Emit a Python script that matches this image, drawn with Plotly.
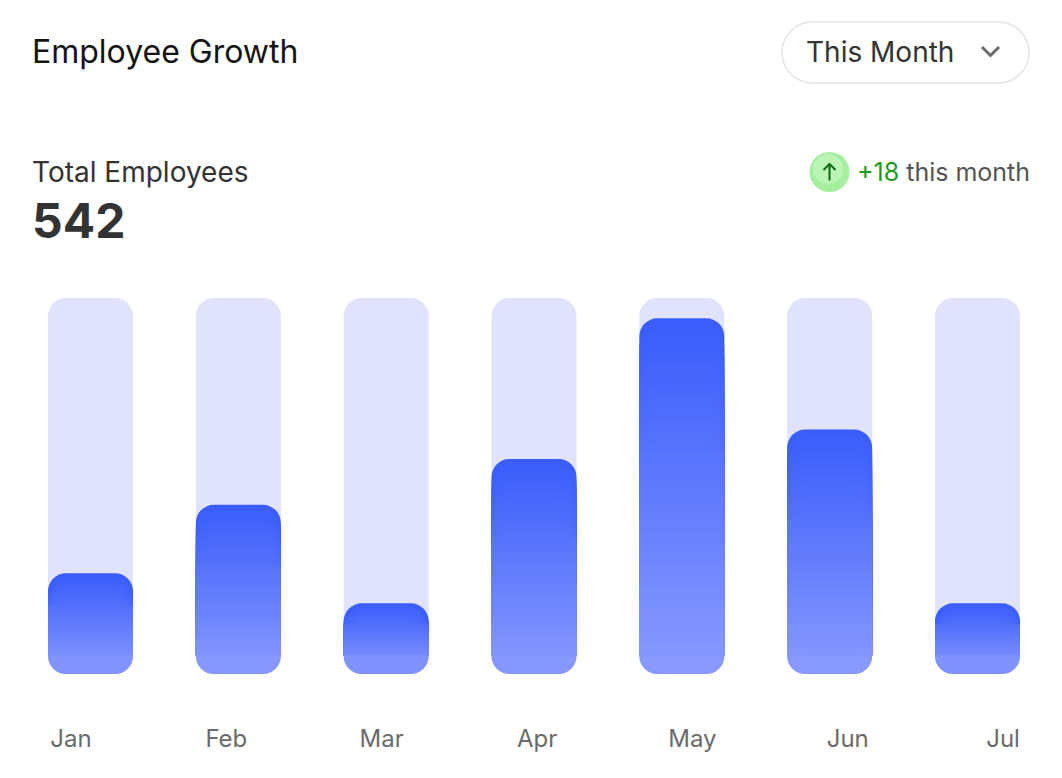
import plotly.graph_objects as go

# data
months = ["Jan", "Feb", "Mar", "Apr", "May", "Jun", "Jul"]
growth = [26.8, 45.0, 18.8, 57.2, 94.6, 65.0, 18.8]   # bar height, % of track
track = [100] * len(months)

title_text = "Employee Growth"
period_text = "This Month"
total_label = "Total Employees"
total_value = 542
change_value = 18

# look
SCR_W, SCR_H = 1062, 778
OFF = 8                       # page body margin
X0, X1, Y0, Y1 = 48, 1020, 298, 674   # plot area on screen
PXU = (Y1 - Y0) / 100.0       # pixels per y unit
BAR_W = 0.575
RADIUS = 18
CAP = 5          # bottom rounded part, in y units
LAYERS = 30
TOP_C = (0x39, 0x5C, 0xFB)
BOT_C = (0x8A, 0x9A, 0xFF)
TRACK_C = "#E1E3FC"
FONT = "Inter"


def mix(f):
    c = [round(a + (b - a) * f) for a, b in zip(TOP_C, BOT_C)]
    return "rgb(%d,%d,%d)" % tuple(c)


def px(x):
    return (x - X0) / (X1 - X0)


def py(y):
    return (Y1 - y) / (Y1 - Y0)


n = len(months)
zero = [0] * n
fig = go.Figure()

# track bars (rounded both ends: upper part + bottom cap)
fig.add_trace(go.Bar(x=months, y=[v - CAP for v in track], base=zero, width=BAR_W,
                     marker=dict(color=TRACK_C, cornerradius=RADIUS, line_width=0),
                     hoverinfo="skip"))
fig.add_trace(go.Bar(x=months, y=[-CAP] * n, width=BAR_W,
                     marker=dict(color=TRACK_C, cornerradius=RADIUS, line_width=0),
                     hoverinfo="skip"))

# value bars, gradient made of overlaid layers
for k in range(LAYERS):
    s = (k + 0.5) / LAYERS
    ys = [(v - CAP) * (1 - k / LAYERS) for v in growth]
    cols = [mix(s * (v - CAP) / v) for v in growth]
    # only layers whose top sits inside the rounded corner need rounding
    near_top = any((v - CAP) * k / LAYERS * PXU < RADIUS + 2 for v in growth)
    fig.add_trace(go.Bar(x=months, y=ys, base=zero, width=BAR_W,
                         marker=dict(color=cols, cornerradius=RADIUS if near_top else 0,
                                     line_width=0),
                         hoverinfo="skip"))
fig.add_trace(go.Bar(x=months, y=[-CAP] * n, width=BAR_W,
                     marker=dict(color=[mix(1 - CAP / (2 * v)) for v in growth],
                                 cornerradius=RADIUS, line_width=0),
                     hoverinfo="skip"))

# invisible trace carrying the month label axis
fig.add_trace(go.Scatter(x=list(range(n)), y=[50] * n, xaxis="x2",
                         mode="markers", marker_opacity=0, hoverinfo="skip"))

annotations = []


def label(x, y, text, size, color, bold=False):
    annotations.append(dict(xref="paper", yref="paper", x=px(x), y=py(y), text=text,
                            showarrow=False, xanchor="left", yanchor="middle",
                            font=dict(family=FONT, size=size, color=color,
                                      weight="bold" if bold else "normal")))


label(30, 51, title_text, 32, "#141414")
label(30, 172, total_label, 28, "#333333")
label(30, 220, str(total_value), 48, "#333333", bold=True)
label(804, 52, period_text, 28, "#333333")
label(855, 172, '<span style="color:#1E9B1E">+%d</span> this month' % change_value, 25, "#555555")
fig.update_layout(annotations=annotations)

# dropdown pill
x0, x1, y0, r = 782, 1029, 22, 30.5
y1 = y0 + 2 * r
kk = 0.5523 * r
pts = [("M", [(x0 + r, y0)]), ("L", [(x1 - r, y0)]),
       ("C", [(x1 - r + kk, y0), (x1, y0 + r - kk), (x1, y0 + r)]),
       ("C", [(x1, y0 + r + kk), (x1 - r + kk, y1), (x1 - r, y1)]),
       ("L", [(x0 + r, y1)]),
       ("C", [(x0 + r - kk, y1), (x0, y0 + r + kk), (x0, y0 + r)]),
       ("C", [(x0, y0 + r - kk), (x0 + r - kk, y0), (x0 + r, y0)])]


def to_path(parts, close=True):
    s = ""
    for cmd, pp in parts:
        s += cmd + " ".join("%.5f,%.5f" % (px(a), py(b)) for a, b in pp) + " "
    return s + ("Z" if close else "")


shapes = [
    dict(type="path", xref="paper", yref="paper", path=to_path(pts),
         fillcolor="white", line=dict(color="#E4E4E4", width=1.5)),
    dict(type="path", xref="paper", yref="paper",
         path=to_path([("M", [(982, 47)]), ("L", [(990.5, 55.5)]), ("L", [(999, 47)])], False),
         line=dict(color="#6B6B6B", width=3)),
    dict(type="circle", xref="paper", yref="paper",
         x0=px(809.5), x1=px(849.5), y0=py(192), y1=py(152),
         fillcolor="#A6EF9E", line_width=0),
    dict(type="circle", xref="paper", yref="paper",
         x0=px(813), x1=px(843), y0=py(184), y1=py(154),
         fillcolor="rgba(214,250,208,0.45)", line_width=0),
    dict(type="path", xref="paper", yref="paper",
         path=to_path([("M", [(829.5, 180.5)]), ("L", [(829.5, 164)])], False),
         line=dict(color="#0C6A0C", width=2)),
    dict(type="path", xref="paper", yref="paper",
         path=to_path([("M", [(823.5, 170)]), ("L", [(829.5, 164)]), ("L", [(835.5, 170)])], False),
         line=dict(color="#0C6A0C", width=2)),
]
fig.update_layout(shapes=shapes)

fig.update_layout(
    width=SCR_W - OFF, height=SCR_H - OFF,
    margin=dict(l=X0 - OFF, r=SCR_W - X1, t=Y0 - OFF, b=SCR_H - Y1),
    barmode="overlay",
    showlegend=False,
    plot_bgcolor="white",
    paper_bgcolor="white",
    xaxis=dict(type="category", range=[-BAR_W / 2, n - 1 + BAR_W / 2],
               showticklabels=False, showgrid=False, zeroline=False, showline=False,
               fixedrange=True),
    xaxis2=dict(overlaying="x", anchor="y", side="bottom", range=[-0.148, 6.109],
                tickvals=list(range(n)), ticktext=months,
                tickfont=dict(family=FONT, size=24, color="#6B6B6B"),
                ticks="", ticklabelstandoff=48, showgrid=False, zeroline=False,
                showline=False, fixedrange=True),
    yaxis=dict(range=[-CAP, 100 - CAP], visible=False, fixedrange=True),
)

fig.write_html("out.html")
